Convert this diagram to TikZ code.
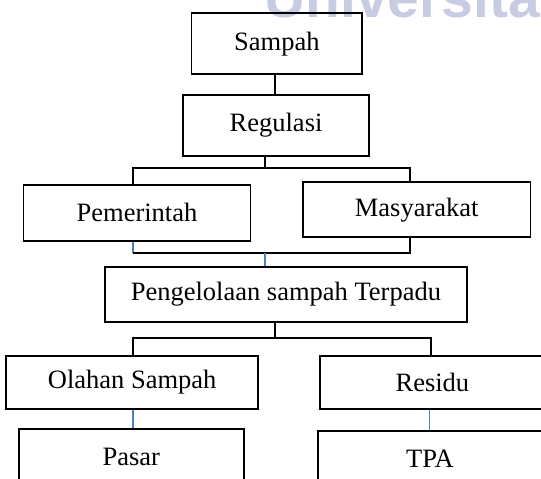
\documentclass[tikz,border=0pt]{standalone}
\usepackage{fontspec}
\setmainfont{Liberation Serif}
\newfontfamily\wmfont{Liberation Sans}
\usetikzlibrary{calc}
\definecolor{wmcol}{RGB}{200,204,226}
\definecolor{linkblue}{RGB}{79,129,189}
\begin{document}
\begin{tikzpicture}[x=1pt,y=-1pt,
  box/.style={draw=black,line width=1.8pt,inner sep=0pt,minimum width=#1,
    font=\fontsize{26.5}{30}\selectfont},
  conn/.style={draw=black,line width=2pt},
  bconn/.style={draw=linkblue,line width=1.7pt}]
\useasboundingbox (0,0) rectangle (541,479);
\clip (0,0) rectangle (541,479);
% watermark
\node[anchor=base west,inner sep=0pt,text=wmcol,font=\wmfont\bfseries\fontsize{57}{60}\selectfont] (wm) at (264,17.3) {Universita};
% boxes
\node[box=170.8pt,minimum height=60.7pt] (sampah) at (276.9,43.65) {Sampah};
\node[box=186.3pt,minimum height=60.7pt] (regulasi) at (276.05,125.35) {Regulasi};
\node[box=227pt,minimum height=55.7pt] (pemerintah) at (137,212.85) {Pemerintah};
\node[box=227.4pt,minimum height=55pt] (masyarakat) at (416.7,209.8) {Masyarakat};
\node[box=362pt,minimum height=55.3pt] (pengelolaan) at (285.9,294.35) {Pengelolaan sampah Terpadu};
\node[box=251.9pt,minimum height=53.3pt] (olahan) at (132.15,382.35) {Olahan Sampah};
\node[box=224.4pt,minimum height=53.3pt] (residu) at (432.4,382.35) {Residu};
\node[box=224.6pt,minimum height=56pt] (pasar) at (131.3,457.3) {Pasar};
\node[box=223.6pt,minimum height=56pt] (tpa) at (430,459) {TPA};
% junction coordinates
\coordinate (c1) at (275.4,0);
\coordinate (b1) at (264.7,168.3);
\coordinate (b2) at (264.7,252.7);
\coordinate (c3) at (275.4,337.7);
\coordinate (cL) at (132.8,0);
\coordinate (cR) at (410,0);
\coordinate (cR2) at (430.6,0);
\coordinate (cR3) at (429.6,0);
% connectors
\draw[conn] (sampah.south -| c1) -- (regulasi.north -| c1);
\draw[conn] (regulasi.south -| b1) -- (b1);
\draw[conn] (pemerintah.north -| cL) |- (b1) -| (masyarakat.north -| cR);
\draw[bconn] (pemerintah.south -| cL) -- (cL |- b2);
\draw[conn] (cL |- b2) -- (b2 -| cR) -- (masyarakat.south -| cR);
\draw[bconn] (b2) -- (pengelolaan.north -| b2);
\draw[conn] (pengelolaan.south -| c3) -- (c3);
\draw[conn] (olahan.north -| cL) |- (c3) -| (residu.north -| cR2);
\draw[bconn] (olahan.south -| cL) -- (pasar.north -| cL);
\draw[bconn] (residu.south -| cR3) -- (tpa.north -| cR3);
\end{tikzpicture}
\end{document}
